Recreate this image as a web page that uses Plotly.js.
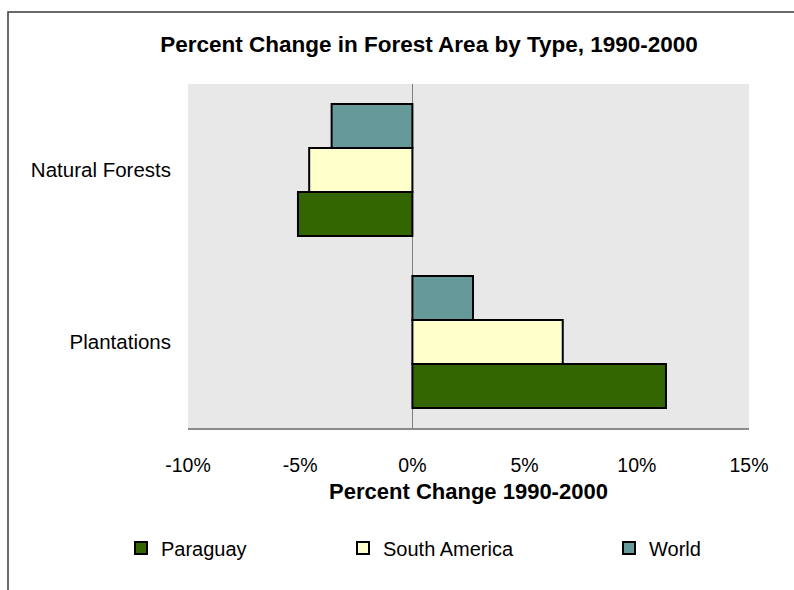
<!DOCTYPE html>
<html>
<head>
<meta charset="utf-8">
<script src="https://cdn.plot.ly/plotly-3.0.1.min.js"></script>
<style>
  html, body { margin: 0; padding: 0; background: #fff; }
  #chart { width: 794px; height: 590px; }
</style>
</head>
<body>
<div id="chart"></div>
<script>
// ---- data ----
const categories = ['Natural Forests', 'Plantations'];
const paraguay = [-0.051, 0.113];
const southAmerica = [-0.046, 0.067];
const world = [-0.036, 0.027];
const seriesNames = ['Paraguay', 'South America', 'World'];
const xTickVals = [-0.10, -0.05, 0, 0.05, 0.10, 0.15];
const xTickText = ['-10%', '-5%', '0%', '5%', '10%', '15%'];

const FONT = '"Liberation Sans", Arial, sans-serif';
const colors = ['#336600', '#FFFFCC', '#669999'];
const values = [paraguay, southAmerica, world];
const legendIds = ['legend', 'legend2', 'legend3'];

const traces = values.map((v, i) => ({
  type: 'bar',
  orientation: 'h',
  name: seriesNames[i],
  x: v,
  y: categories,
  marker: { color: colors[i], line: { color: '#000000', width: 2 } },
  legend: legendIds[i],
  hoverinfo: 'skip'
}));

const W = 794, H = 590;
const L = 188, R = 749, T = 84, B = 428;
const pw = R - L, ph = B - T;
const px2x = x => (x - L) / pw;
const py2y = y => (B - y) / ph;

const legendBase = {
  orientation: 'h',
  bgcolor: 'rgba(0,0,0,0)',
  font: { family: FONT, size: 20, color: '#000' },
  yanchor: 'middle',
  xanchor: 'left',
  itemwidth: 30,
  y: py2y(548)
};

const layout = {
  width: W, height: H,
  margin: { l: L, r: W - R, t: T, b: H - B, pad: 0 },
  paper_bgcolor: '#ffffff',
  plot_bgcolor: '#E8E8E8',
  font: { family: FONT, size: 20, color: '#000' },
  barmode: 'group',
  bargap: 0.233,
  bargroupgap: 0,
  title: {
    text: '<b>Percent Change in Forest Area by Type, 1990-2000</b>',
    font: { family: FONT, size: 22.5, color: '#000' },
    xref: 'container', x: 429 / W, xanchor: 'center',
    yref: 'container', y: 1 - 44 / H, yanchor: 'middle'
  },
  xaxis: {
    range: [-0.10, 0.15],
    tickvals: xTickVals,
    ticktext: xTickText,
    ticks: '',
    ticklabelstandoff: 19,
    showgrid: false,
    zeroline: true,
    zerolinecolor: '#808080',
    zerolinewidth: 1,
    showline: true,
    linecolor: '#8C8C8C',
    linewidth: 1.5,
    tickfont: { family: FONT, size: 19.5, color: '#000' },
    title: {
      text: '<b>Percent Change 1990-2000</b>',
      font: { family: FONT, size: 22, color: '#000' },
      standoff: 8
    },
    fixedrange: true
  },
  yaxis: {
    type: 'category',
    categoryorder: 'array',
    categoryarray: categories.slice().reverse(),
    range: [-0.5, 1.5],
    ticks: '',
    ticklabelstandoff: 16,
    showgrid: false,
    zeroline: false,
    showline: false,
    tickfont: { family: FONT, size: 20.5, color: '#000' },
    fixedrange: true
  },
  legend: Object.assign({}, legendBase, { x: px2x(121) }),
  legend2: Object.assign({}, legendBase, { x: px2x(343) }),
  legend3: Object.assign({}, legendBase, { x: px2x(609) }),
  shapes: [{
    type: 'rect', xref: 'paper', yref: 'paper', layer: 'above',
    x0: px2x(8), x1: px2x(W + 20), y0: py2y(H + 20), y1: py2y(12),
    line: { color: '#3a3a3a', width: 1.5 },
    fillcolor: 'rgba(0,0,0,0)'
  }],
  showlegend: true
};

Plotly.newPlot('chart', traces, layout, { displayModeBar: false, staticPlot: true });
</script>
</body>
</html>
